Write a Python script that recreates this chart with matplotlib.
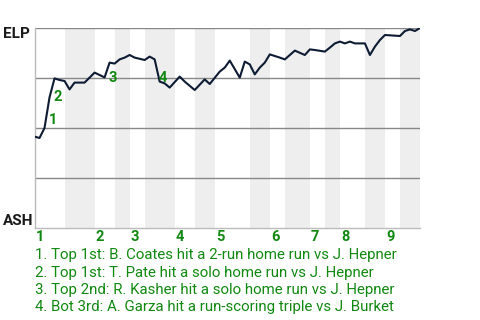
import matplotlib
matplotlib.use("Agg")
import matplotlib.pyplot as plt

plt.rcParams["font.family"] = ["Roboto", "DejaVu Sans"]

# win probability for ELP (percent) by game event
event = [0, 1, 2, 3, 4, 5, 6, 7, 8, 10, 12, 14, 15, 16, 17, 18, 19, 20, 22, 23,
         24, 25, 26, 27, 29, 30, 32, 34, 35, 37, 38, 39, 41, 42, 43, 44, 45, 46,
         47, 49, 50, 52, 54, 55, 56, 58, 59, 60, 61, 62, 63, 64, 66, 67, 68, 69,
         70, 73, 74, 75, 76, 77]
elp_wp = [45.7, 45, 50, 65.3, 74.8, 74, 73.5, 69.3, 72.7, 72.7, 77.7, 75.3, 82.7,
          82.2, 84.3, 85.2, 86.5, 85.2, 84, 85.7, 84.3, 73.2, 72.3, 70.2, 75.7,
          73.2, 69, 74.3, 72, 78.2, 80.2, 83.7, 75.2, 83.2, 81.8, 76.8, 80.2, 82.7,
          86.8, 85.2, 84.3, 88.7, 86.5, 89.3, 89, 88.2, 90.2, 92.3, 93.2, 92.3,
          93.2, 92.3, 92.3, 86.5, 90.7, 94, 96.5, 96, 98.5, 99.3, 98.5, 100]

# first event of each half inning (top 1 .. bottom 9), plus the end
half_starts = [0, 6, 12, 16, 19, 22, 28, 32, 36, 43, 47, 50, 55, 58, 61, 66, 70, 73, 77]
innings = ["1", "2", "3", "4", "5", "6", "7", "8", "9"]

# key plays
play_num = ["1", "2", "3", "4"]
play_x = [3.7, 4.7, 15.7, 25.7]
play_y = [54, 65.5, 75, 75]
play_text = [
    "1. Top 1st: B. Coates hit a 2-run home run vs J. Hepner",
    "2. Top 1st: T. Pate hit a solo home run vs J. Hepner",
    "3. Top 2nd: R. Kasher hit a solo home run vs J. Hepner",
    "4. Bot 3rd: A. Garza hit a run-scoring triple vs J. Burket",
]

green = "#118811"
fig = plt.figure(figsize=(4.8, 3.2), dpi=100)
ax = fig.add_axes([34.5 / 480, 92 / 320, 385.5 / 480, 200 / 320])

# shaded bottom halves
for k in range(1, len(half_starts) - 1, 2):
    ax.axvspan(half_starts[k], half_starts[k + 1], color="#eeeeee", lw=0, zorder=0)

for yv in [25, 50, 75, 100]:
    ax.axhline(yv, color="#888888", lw=1, zorder=1)

ax.plot(event, elp_wp, color="#0d1b33", lw=1.5, zorder=3)

for n, x, y in zip(play_num, play_x, play_y):
    ax.text(x, y, n, color=green, fontsize=10.5, fontweight="bold",
            ha="center", va="center", zorder=4)

ax.set_xlim(0, 77)
ax.set_ylim(0, 100)
ax.set_xticks([])
ax.set_yticks([])
for side in ["top", "right"]:
    ax.spines[side].set_visible(False)
for side in ["left", "bottom"]:
    ax.spines[side].set_color("#bbbbbb")
    ax.spines[side].set_linewidth(1)

# inning labels under the axis
for lab, x in zip(innings, half_starts[0::2]):
    ax.text(x + 0.2, -4.5, lab, color=green, fontsize=10.5, fontweight="bold",
            ha="left", va="center")

fig.text(3 / 480, 1 - 34 / 320, "ELP", fontsize=11, fontweight="bold",
         color="#1a1a1a", ha="left", va="center")
fig.text(3 / 480, 1 - 221 / 320, "ASH", fontsize=11, fontweight="bold",
         color="#1a1a1a", ha="left", va="center")

for k, t in enumerate(play_text):
    fig.text(35 / 480, 1 - (255 + 17.5 * k) / 320, t, fontsize=10.8,
             color=green, ha="left", va="center")

fig.savefig("out.png", dpi=100)
